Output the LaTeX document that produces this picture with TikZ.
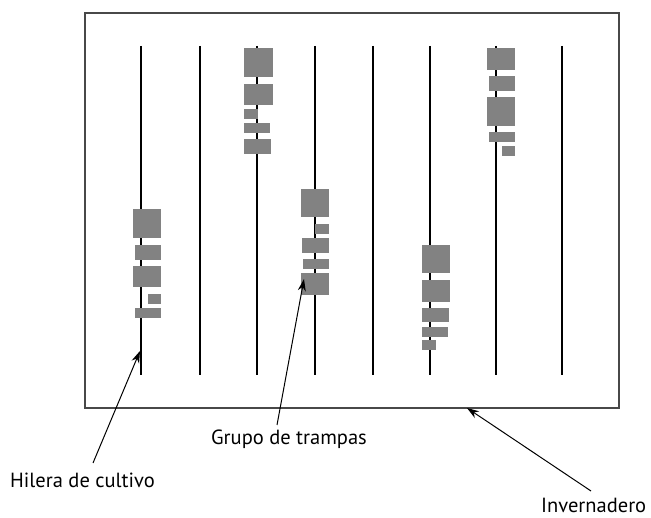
\documentclass[tikz,border=0pt]{standalone}
\usepackage{fontspec}
\setmainfont{PT Sans}
\usetikzlibrary{arrows.meta}
\definecolor{trapgray}{RGB}{130,130,130}
\definecolor{framegray}{RGB}{72,72,72}
\begin{document}
\begin{tikzpicture}[x=1pt,y=-1pt,
  trap/.style={fill=trapgray},
  rowline/.style={line width=2pt, black},
  lbl/.style={font=\fontsize{20.5}{22}\selectfont, inner sep=0pt, anchor=base west},
  ptr/.style={-{Stealth[length=12pt,width=8pt]}, line width=1pt}]
\useasboundingbox (0,0) rectangle (651,518);
% greenhouse frame
\draw[framegray, line width=1.5pt] (85,13) rectangle (619,408);
% crop rows
\foreach \x in {141,200,257,315,373,430,496,562}
  \draw[rowline] (\x,46) -- (\x,375);
% trap clusters
\fill[trap] (133,209) rectangle (161,238);
\fill[trap] (135,245) rectangle (161,260);
\fill[trap] (133,266) rectangle (161,287);
\fill[trap] (148,294) rectangle (161,304);
\fill[trap] (135,308) rectangle (161,318);
\fill[trap] (244,48) rectangle (273,77);
\fill[trap] (244,84) rectangle (273,105);
\fill[trap] (244,109) rectangle (258,119);
\fill[trap] (244,123) rectangle (270,133);
\fill[trap] (244,139) rectangle (271,154);
\fill[trap] (301,189) rectangle (329,217);
\fill[trap] (315,224) rectangle (329,234);
\fill[trap] (302,238) rectangle (329,253);
\fill[trap] (303,259) rectangle (329,269);
\fill[trap] (301,273) rectangle (329,295);
\fill[trap] (422,245) rectangle (450,273);
\fill[trap] (422,280) rectangle (450,302);
\fill[trap] (422,308) rectangle (449,322);
\fill[trap] (422,327) rectangle (448,337);
\fill[trap] (422,340) rectangle (436,350);
\fill[trap] (487,48) rectangle (515,70);
\fill[trap] (489,76) rectangle (515,91);
\fill[trap] (487,97) rectangle (515,126);
\fill[trap] (489,132) rectangle (515,142);
\fill[trap] (502,146) rectangle (515,156);
% pointer targets
\coordinate (rowpt) at (140,351);
\coordinate (trappt) at (304,279);
\coordinate (housept) at (467,408);
% labels
\node[lbl] (hilera) at (10,488) {Hilera de cultivo};
\node[lbl] (grupo) at (211,445) {Grupo de trampas};
\node[lbl] (inver) at (541,513) {Invernadero};
\coordinate (hileratail) at (93,463);
\coordinate (grupotail) at (277,425);
\coordinate (invertail) at (591,491);
\draw[ptr] (hileratail) -- (rowpt);
\draw[ptr] (grupotail) -- (trappt);
\draw[ptr] (invertail) -- (housept);
\end{tikzpicture}
\end{document}
